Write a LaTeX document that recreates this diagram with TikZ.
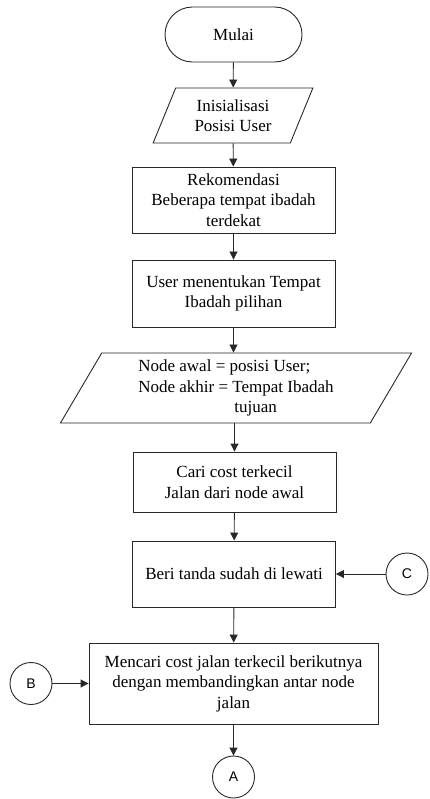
\documentclass[tikz,border=0pt]{standalone}
\usepackage{fontspec}
\setmainfont{Liberation Serif}
\newfontfamily\connfont{Liberation Sans}
\usepackage{xcolor}
\usepackage{tikz}
\usetikzlibrary{shapes.geometric,shapes.misc,arrows.meta}
\definecolor{flowline}{RGB}{40,40,40}

\begin{document}
\begin{tikzpicture}[x=1pt, y=-1pt,
    every node/.style={font=\fontsize{17}{20.5}\selectfont, text=black},
    terminal/.style={draw=flowline, line width=0.9pt, rounded rectangle,
        minimum width=137pt, minimum height=55pt, inner sep=0pt},
    proc/.style={draw=flowline, line width=0.9pt, rectangle, align=center,
        minimum width=203pt, inner sep=0pt},
    io/.style={draw=flowline, line width=0.9pt, trapezium, align=center,
        trapezium stretches=true, inner sep=0pt},
    conn/.style={draw=flowline, line width=0.9pt, circle, minimum size=42pt,
        inner sep=0pt, font=\connfont\fontsize{14}{16}\selectfont},
    arr/.style={draw=flowline, line width=0.9pt, -{Triangle[length=8pt,width=8pt]}}]

    % Page frame
    \useasboundingbox (0,0) rectangle (429,799);

    % Main column
    \node[terminal] (mulai) at (233.5,34.5) {Mulai};
    \node[io, minimum width=160pt, minimum height=55pt,
        trapezium left angle=65, trapezium right angle=115] (init) at (233,115.5)
        {Inisialisasi\\Posisi User};
    \node[proc, minimum height=66pt] (rekom) at (233.5,200)
        {Rekomendasi\\Beberapa tempat ibadah\\terdekat};
    \node[proc, minimum height=67pt] (pilih) at (233.5,293.5)
        {User menentukan Tempat\\Ibadah pilihan};
    \node[io, minimum width=352pt, minimum height=70pt, align=left,
        trapezium left angle=62, trapezium right angle=118] (awal) at (236,388)
        {Node awal = posisi User;\\Node akhir = Tempat Ibadah\\\hspace*{96pt}tujuan};
    \node[proc, minimum height=60pt] (cari) at (234.5,482)
        {Cari cost terkecil\\Jalan dari node awal};
    \node[proc, minimum height=66pt] (tanda) at (234,574)
        {Beri tanda sudah di lewati};
    \node[proc, minimum width=289pt, minimum height=81pt] (mencari) at (233.5,683.5)
        {Mencari cost jalan terkecil berikutnya\\dengan membandingkan antar node\\jalan};

    % Connectors
    \node[conn] (C) at (407,574) {C};
    \node[conn] (B) at (31,683.5) {B};
    \node[conn] (A) at (233.5,777) {A};

    % Flow
    \draw[arr] (mulai) -- (init);
    \draw[arr] (init) -- (rekom);
    \draw[arr] (rekom) -- (pilih);
    \draw[arr] (pilih) -- (pilih |- awal.north);
    \draw[arr] (awal.south -| cari) -- (cari);
    \draw[arr] (cari) -- (tanda);
    \draw[arr] (tanda) -- (mencari);
    \draw[arr] (mencari) -- (A);
    \draw[arr] (C) -- (tanda);
    \draw[arr] (B) -- (mencari);
\end{tikzpicture}
\end{document}
